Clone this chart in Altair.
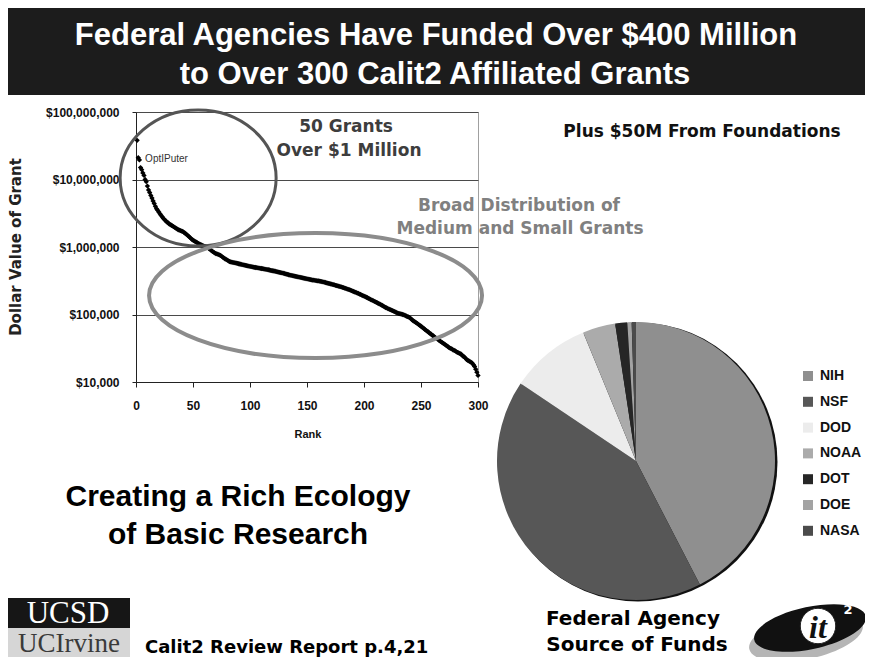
import altair as alt
import pandas as pd

# ---------------- data ----------------
# grant values (thousands of dollars) by rank 1..300
grant_value_k = [
    38000, 21000, 19500, 15000, 14000, 12500, 11500, 10000, 9300, 8000, 7000, 6400, 5800, 5300, 4800, 4400, 4000, 3700, 3500, 3300,
    3100, 2950, 2800, 2650, 2550, 2450, 2350, 2300, 2200, 2150, 2100, 2050, 2000, 1950, 1900, 1850, 1800, 1780, 1750, 1720,
    1700, 1650, 1600, 1550, 1500, 1450, 1400, 1350, 1300, 1260, 1230, 1200, 1180, 1150, 1120, 1100, 1080, 1060, 1040, 1020,
    1010, 1000, 980, 950, 920, 890, 860, 840, 820, 800, 790, 775, 765, 750, 730, 710, 690, 670, 655, 640,
    625, 610, 600, 595, 590, 585, 580, 575, 570, 565, 560, 555, 550, 545, 540, 535, 530, 525, 520, 515,
    512, 508, 505, 500, 497, 494, 490, 487, 484, 480, 477, 474, 470, 467, 463, 460, 456, 452, 448, 445,
    441, 437, 433, 429, 425, 421, 417, 413, 409, 405, 400, 396, 392, 388, 384, 380, 377, 374, 371, 368,
    365, 362, 359, 356, 353, 350, 347, 344, 341, 338, 335, 332, 329, 326, 324, 322, 320, 318, 316, 314,
    312, 310, 307, 304, 301, 298, 295, 292, 289, 286, 283, 280, 277, 274, 271, 268, 265, 262, 259, 256,
    253, 250, 246, 243, 240, 236, 233, 229, 226, 222, 219, 215, 212, 208, 205, 201, 198, 194, 191, 187,
    184, 180, 177, 173, 170, 166, 163, 160, 157, 154, 151, 148, 145, 142, 139, 136, 133, 130, 127, 125,
    122, 120, 118, 116, 114, 112, 110, 108, 106, 104, 103, 102, 101, 100, 99, 97, 95, 93, 92, 90,
    87, 84, 81, 79, 77, 75, 73, 71, 69, 67, 65, 63, 61, 59, 57, 56, 54, 52, 51, 49,
    48, 46, 45, 44, 43, 41, 40, 39, 38, 37, 36, 35, 34, 33, 32, 31.5, 31, 30, 29.5, 29,
    28, 27.5, 27, 26.5, 26, 25, 24, 23.5, 22.5, 21.5, 21, 20.5, 20, 19.5, 19, 18, 17, 15.5, 14, 12.5,
]
grant_rank = list(range(1, len(grant_value_k) + 1))

x_tick_values = [0, 50, 100, 150, 200, 250, 300]
y_tick_values = [10000, 100000, 1000000, 10000000, 100000000]

agencies = ["NIH", "NSF", "DOD", "NOAA", "DOT", "DOE", "NASA"]
agency_share = [42.4, 42.0, 9.4, 3.8, 1.4, 0.5, 0.5]
agency_colors = ["#8f8f8f", "#575757", "#ececec", "#ababab", "#262626", "#a3a3a3", "#4b4b4b"]

# highlight ellipses (centre rank, centre value)
ellipse_rank = [54.5, 157.5]
ellipse_value = [1.05e7, 1.91e5]

title_lines = ["Federal Agencies Have Funded Over $400 Million",
               "to Over 300 Calit2 Affiliated Grants"]
big_grants_lines = ["50 Grants", "Over $1 Million"]
broad_lines = ["Broad Distribution of", "Medium and Small Grants"]
foundations_text = "Plus $50M From Foundations"
ecology_lines = ["Creating a Rich Ecology", "of Basic Research"]
pie_caption_lines = ["Federal Agency", "Source of Funds"]
report_text = "Calit2 Review Report p.4,21"
highlight_label = "OptIPuter"
y_title = "Dollar Value of Grant"
x_title = "Rank"

# ---------------- layout ----------------
W, H = 342, 270
PL, PT = 128, 104
TOTAL_W, TOTAL_H = 857, 649

SANS = "Liberation Sans, Arial, sans-serif"
WIDE = "DejaVu Sans, Verdana, sans-serif"
SERIF = "Liberation Serif, Times New Roman, serif"


def ellipse_path(q):
    k = 0.5523
    return (f"M 1 0 C 1 {k*q:.4f} {k:.4f} {q:.4f} 0 {q:.4f} "
            f"C {-k:.4f} {q:.4f} -1 {k*q:.4f} -1 0 "
            f"C -1 {-k*q:.4f} {-k:.4f} {-q:.4f} 0 {-q:.4f} "
            f"C {k:.4f} {-q:.4f} 1 {-k*q:.4f} 1 0 Z")


def label(text, x, y, size, font=WIDE, weight="bold", color="#000000",
          align="center", angle=None, style="normal"):
    kw = dict(fontSize=size, font=font, fontWeight=weight, color=color,
              align=align, baseline="middle", fontStyle=style)
    if angle is not None:
        kw["angle"] = angle
    return alt.Chart(pd.DataFrame({"label": [text]})).mark_text(**kw).encode(
        x=alt.value(x), y=alt.value(y), text="label:N")


one = pd.DataFrame({"v": [1]})

# banner
banner = alt.Chart(one).mark_rect(color="#1c1c1c").encode(
    x=alt.value(-PL), x2=alt.value(TOTAL_W - PL), y=alt.value(-PT), y2=alt.value(-17))
title1 = label(title_lines[0], 300, -76, 31, font=SANS, color="white")
title2 = label(title_lines[1], 299, -37, 31, font=SANS, color="white")

# scatter
grants = pd.DataFrame({"rank": grant_rank, "value": [v * 1000 for v in grant_value_k]})
xs = alt.Scale(domain=[0, 300], nice=False, zero=False)
ys = alt.Scale(type="log", domain=[1e4, 1e8], nice=False)
x_axis = alt.Axis(values=x_tick_values, title=None, grid=False, labelFont=SANS,
                  labelFontSize=12, labelFontWeight="bold", labelColor="#111",
                  tickSize=5, tickColor="#222", domainColor="#222",
                  labelPadding=13, labelFlush=False, labelOverlap=False)
y_axis = alt.Axis(values=y_tick_values, format="$,.0f", title=None, grid=True,
                  gridColor="#4a4a4a", gridWidth=1, labelFont=SANS,
                  labelFontSize=12, labelFontWeight="bold", labelColor="#111",
                  tickSize=4, tickColor="#222", domainColor="#222",
                  labelPadding=13, labelFlush=False, labelOverlap=False)

points = alt.Chart(grants).mark_point(shape="diamond", filled=True, size=28,
                                      color="black", opacity=1).encode(
    x=alt.X("rank:Q", scale=xs, axis=x_axis),
    y=alt.Y("value:Q", scale=ys, axis=y_axis))

ell_df1 = pd.DataFrame({"rank": [ellipse_rank[0]], "value": [ellipse_value[0]]})
ell_df2 = pd.DataFrame({"rank": [ellipse_rank[1]], "value": [ellipse_value[1]]})
ell1 = alt.Chart(ell_df1).mark_point(shape=ellipse_path(68 / 78), size=156 ** 2,
                                     filled=False, stroke="#555555", strokeWidth=3,
                                     opacity=1).encode(
    x=alt.X("rank:Q", scale=xs), y=alt.Y("value:Q", scale=ys))
ell2 = alt.Chart(ell_df2).mark_point(shape=ellipse_path(62.5 / 166.5), size=333 ** 2,
                                     filled=False, stroke="#8c8c8c", strokeWidth=4,
                                     opacity=1).encode(
    x=alt.X("rank:Q", scale=xs), y=alt.Y("value:Q", scale=ys))

opti = alt.Chart(pd.DataFrame({"rank": [8], "value": [2.0e7], "label": [highlight_label]})).mark_text(
    font=SANS, fontSize=10, color="#333", align="left", baseline="middle").encode(
    x=alt.X("rank:Q", scale=xs), y=alt.Y("value:Q", scale=ys), text="label:N")

ytitle = label(y_title, -120, 135, 15, font=WIDE, color="#222", angle=270)
xtitle = label(x_title, 172, 323, 11, font=SANS, color="#111")

# annotations
t50a = label(big_grants_lines[0], 210, 15, 17, color="#3d3d3d")
t50b = label(big_grants_lines[1], 213, 39, 17, color="#3d3d3d")
tfound = label(foundations_text, 566, 20, 17, color="#111")
tbroad1 = label(broad_lines[0], 383, 94, 17, color="#808080")
tbroad2 = label(broad_lines[1], 384, 117, 17, color="#808080")
teco1 = label(ecology_lines[0], 102, 385, 30, font=SANS, color="#000")
teco2 = label(ecology_lines[1], 102, 423, 30, font=SANS, color="#000")
tcap1 = label(pie_caption_lines[0], 497, 507, 20, color="#000")
tcap2 = label(pie_caption_lines[1], 501, 533, 20, color="#000")
treport = label(report_text, 9, 536, 18, color="#000", align="left")

# pie
pie_df = pd.DataFrame({"agency": agencies, "share": agency_share,
                       "idx": list(range(len(agencies)))})
shadow = alt.Chart(one).mark_arc(outerRadius=139.5, theta=0, theta2=6.2832,
                                 color="#111111").encode(
    x=alt.value(502), y=alt.value(350))
pie = alt.Chart(pie_df).mark_arc(outerRadius=139).encode(
    theta=alt.Theta("share:Q", stack=True),
    order=alt.Order("idx:Q", sort="ascending"),
    color=alt.Color("agency:N",
                    scale=alt.Scale(domain=agencies, range=agency_colors),
                    legend=alt.Legend(orient="none", legendX=665, legendY=257,
                                      title=None, direction="vertical",
                                      labelFont=SANS, labelFontSize=14,
                                      labelFontWeight="bold", labelColor="#111",
                                      symbolType="square", symbolSize=100,
                                      symbolStrokeWidth=0, symbolOpacity=1,
                                      rowPadding=11.8, labelOffset=5,
                                      padding=0, offset=0)),
    x=alt.value(500), y=alt.value(349))

# logos
ucsd_rect = alt.Chart(one).mark_rect(color="#161616").encode(
    x=alt.value(-PL), x2=alt.value(-6), y=alt.value(486), y2=alt.value(516))
uci_rect = alt.Chart(one).mark_rect(color="#d6d6d6").encode(
    x=alt.value(-PL), x2=alt.value(-6), y=alt.value(516), y2=alt.value(TOTAL_H - PT))
ucsd_t = label("UCSD", -68, 502, 31, font=SERIF, weight="normal", color="white")
uci_t = label("UCIrvine", -67, 532, 27, font=SERIF, weight="normal", color="#3a3a3a")

logo_gray = alt.Chart(one).mark_point(shape=ellipse_path(0.38), size=116 ** 2, filled=True,
                                      color="#b5b5b5", opacity=1, angle=348).encode(
    x=alt.value(670), y=alt.value(525))
logo_black = alt.Chart(one).mark_point(shape=ellipse_path(0.37), size=114 ** 2, filled=True,
                                       color="#111111", opacity=1, angle=348).encode(
    x=alt.value(674), y=alt.value(516))
logo_circle = alt.Chart(one).mark_point(shape="circle", size=1257, filled=True,
                                        fill="white", stroke="#222", strokeWidth=1,
                                        opacity=1).encode(
    x=alt.value(682), y=alt.value(514))
logo_it = label("it", 682, 516, 32, font=SERIF, color="#111", style="italic")
logo_2 = label("2", 712, 498, 13, font=WIDE, color="white")

chart = alt.layer(
    banner, title1, title2,
    points, ell1, ell2, opti, ytitle, xtitle,
    t50a, t50b, tfound, tbroad1, tbroad2, teco1, teco2,
    shadow, pie, tcap1, tcap2, treport,
    ucsd_rect, uci_rect, ucsd_t, uci_t,
    logo_gray, logo_black, logo_circle, logo_it, logo_2,
).properties(
    width=W, height=H,
    autosize=alt.AutoSizeParams(type="none"),
    padding={"left": PL, "top": PT, "right": TOTAL_W - PL - W, "bottom": TOTAL_H - PT - H},
    background="white",
).configure_view(stroke="#a0a0a0", strokeWidth=1)

chart.save("out.html", embed_options={"renderer": "svg", "actions": False})
